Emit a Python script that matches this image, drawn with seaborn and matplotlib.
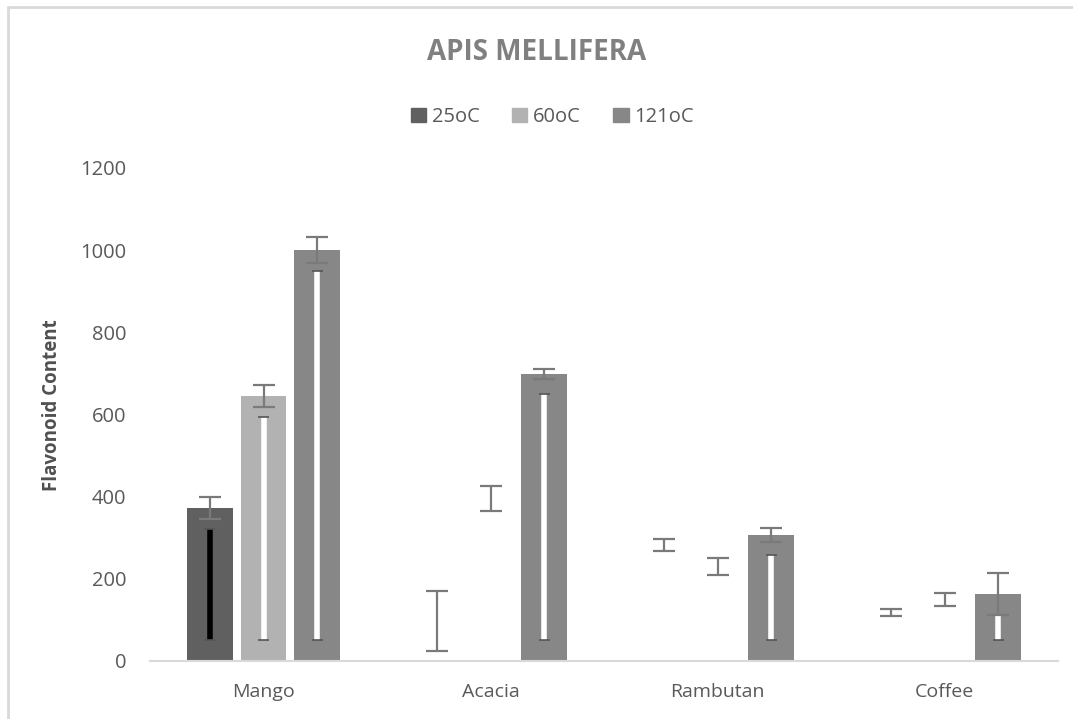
import matplotlib
matplotlib.use('Agg')
import matplotlib.pyplot as plt
import matplotlib.patches as mpatches
from matplotlib.container import BarContainer
import pandas as pd
import seaborn as sns

honey = ['Mango', 'Acacia', 'Rambutan', 'Coffee']
temps = ['25oC', '60oC', '121oC']

val_25 = [372, 97, 283, 118]
val_60 = [645, 395, 230, 150]
val_121 = [1000, 698, 307, 163]

err_25 = [27, 73, 15, 9]
err_60 = [27, 30, 21, 16]
err_121 = [31, 12, 17, 51]

# some bars are not drawn in the original, only their error bars
shown_25 = [True, False, False, False]
shown_60 = [True, False, False, False]
shown_121 = [True, True, True, True]

# odd inner stripe drawn inside the visible bars
inner_low = 50
inner_high_25 = [322, None, None, None]
inner_high_60 = [595, None, None, None]
inner_high_121 = [950, 650, 257, 113]

colors = ['#606060', '#b2b2b2', '#878787']

sns.set_style('white')
plt.rcParams['font.family'] = ['Open Sans', 'DejaVu Sans']

df = pd.DataFrame({
    'honey': honey * 3,
    'temp': [t for t in temps for _ in honey],
    'value': val_25 + val_60 + val_121,
})
errs = [err_25, err_60, err_121]
shown = [shown_25, shown_60, shown_121]
inner = [inner_high_25, inner_high_60, inner_high_121]

fig = plt.figure(figsize=(10.73, 7.19), dpi=100)
ax = fig.add_axes([150 / 1073, 1 - 661 / 719, 908 / 1073, 493 / 719])

sns.barplot(data=df, x='honey', y='value', hue='temp', order=honey, hue_order=temps,
            palette=colors, width=0.71, gap=0.15, saturation=1, errorbar=None,
            linewidth=0, ax=ax)

# collect bars, sort by x -> category major, hue minor
bars = [p for cont in list(ax.containers) if isinstance(cont, BarContainer) for p in cont]
bars = sorted(bars, key=lambda p: p.get_x())
for k, p in enumerate(bars[:12]):
    c, h = divmod(k, 3)
    xc = p.get_x() + p.get_width() / 2
    v = p.get_height()
    if not shown[h][c]:
        p.set_visible(False)
    ax.errorbar(xc, v, yerr=errs[h][c], fmt='none', ecolor='#7a7a7a',
                elinewidth=1.6, capsize=8, capthick=1.6, zorder=4)
    hi = inner[h][c]
    if hi is not None:
        lc = 'black' if (c == 0 and h == 0) else 'white'
        ax.vlines(xc, inner_low, hi, colors=lc, linewidth=4, zorder=3)
        ax.hlines([inner_low, hi], xc - 0.025, xc + 0.025, colors='#555555',
                  linewidth=1.2, zorder=3)

ax.set_xlim(-0.5, 3.5)
ax.set_ylim(0, 1200)
ax.set_yticks(range(0, 1201, 200))
ax.set_xlabel('')
ax.set_ylabel('Flavonoid Content', fontsize=13.5, fontweight='bold', color='#505050')
ax.yaxis.set_label_coords(-0.097, 0.52)
ax.tick_params(axis='both', length=0, labelsize=14, labelcolor='#595959')
ax.tick_params(axis='y', pad=17, labelsize=14.5)
ax.tick_params(axis='x', pad=16)
for s in ['top', 'right', 'left']:
    ax.spines[s].set_visible(False)
ax.spines['bottom'].set_color('#d9d9d9')
ax.spines['bottom'].set_linewidth(1.5)

handles = [mpatches.Patch(color=col, label=t) for col, t in zip(colors, temps)]
if ax.get_legend() is not None:
    ax.get_legend().remove()
fig.legend(handles=handles, loc='center', bbox_to_anchor=(0.515, 1 - 117 / 719), ncol=3,
           frameon=False, fontsize=14.5, handlelength=0.75, handleheight=0.75,
           handletextpad=0.3, columnspacing=1.6, labelcolor='#595959')

fig.text(0.5, 1 - 52 / 719, 'APIS MELLIFERA', ha='center', va='center',
         fontsize=20, fontweight='bold', color='#808080')

# outer chart frame
fig.patches.append(mpatches.Rectangle((8 / 1073, -0.1), 1.2, 1.1 - 8 / 719 + 0.002,
                                      transform=fig.transFigure, fill=False,
                                      edgecolor='#d9d9d9', linewidth=2))

fig.savefig('out.png', dpi=100)
